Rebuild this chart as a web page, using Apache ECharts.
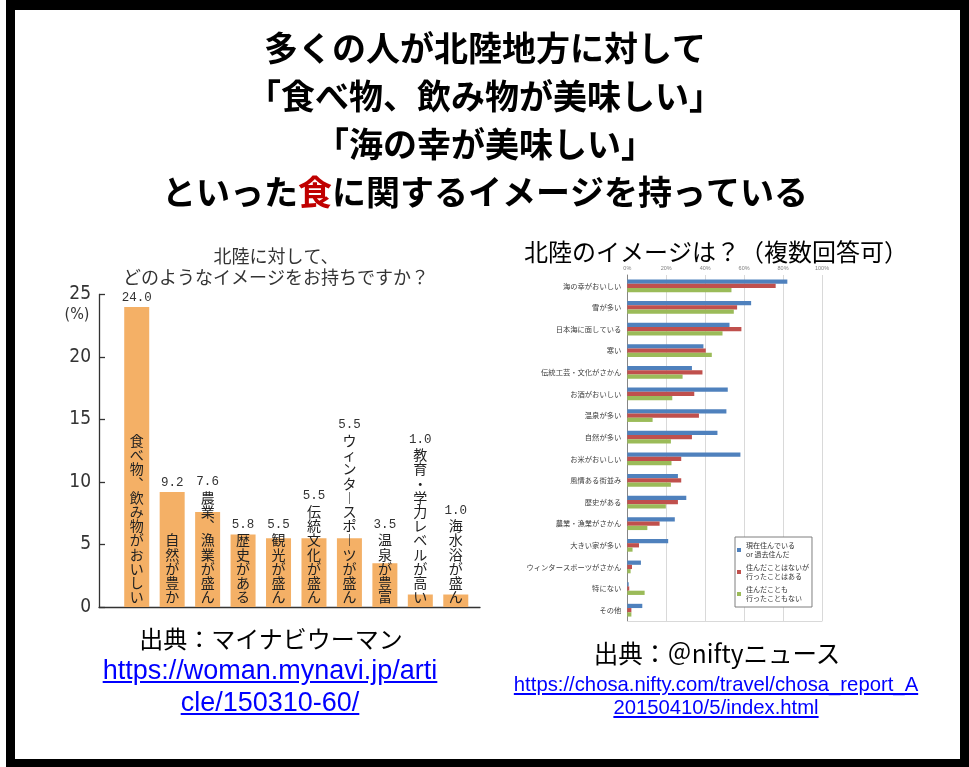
<!DOCTYPE html>
<html>
<head>
<meta charset="utf-8">
<script src="https://cdn.jsdelivr.net/npm/echarts/dist/echarts.min.js"></script>
<style>
  html, body { margin:0; padding:0; background:#fff; width:969px; height:767px; overflow:hidden; }
  #frame { position:absolute; left:6px; top:0; width:963px; height:767px; box-sizing:border-box;
           border-style:solid; border-color:#000; border-width:10px 9px 8px 9px; }
  #chart { position:absolute; left:0; top:0; width:969px; height:767px; }
  .src { position:absolute; transform:translateX(-50%); white-space:nowrap; text-align:center;
         font-family:"Noto Sans CJK JP", sans-serif; color:#000; }
  .lnk { position:absolute; transform:translateX(-50%); white-space:nowrap; text-align:center;
         font-family:"Liberation Sans", Arial, sans-serif; color:#0000FF; text-decoration:underline; }
</style>
</head>
<body>
<div id="frame"></div>
<div id="chart"></div>
<div class="src" style="left:271px;top:623px;font-size:24px;line-height:30px;">出典：マイナビウーマン</div>
<div class="lnk" style="left:270px;top:654px;font-size:27px;line-height:32px;">https://woman.mynavi.jp/arti<br>cle/150310-60/</div>
<div class="src" style="left:717px;top:638px;font-size:24.5px;line-height:30px;">出典：＠niftyニュース</div>
<div class="lnk" style="left:716px;top:673px;font-size:20.3px;line-height:23px;">https://chosa.nifty.com/travel/chosa_report_A<br>20150410/5/index.html</div>
<script>
// ---------- data ----------
const leftCategories = ['食べ物、飲み物がおいしい','自然が豊か','農業、漁業が盛ん','歴史がある','観光が盛ん','伝統文化が盛ん','ウィンタースポーツが盛ん','温泉が豊富','教育・学力レベルが高い','海水浴が盛ん'];
const leftValues = [24.0, 9.2, 7.6, 5.8, 5.5, 5.5, 5.5, 3.5, 1.0, 1.0];
const leftTicks = [0, 5, 10, 15, 20, 25];

const rightCategories = ['海の幸がおいしい','雪が多い','日本海に面している','寒い','伝統工芸・文化がさかん','お酒がおいしい','温泉が多い','自然が多い','お米がおいしい','風情ある街並み','歴史がある','農業・漁業がさかん','大きい家が多い','ウィンタースポーツがさかん','特にない','その他'];
const seriesNames = ['現在住んでいる\nor 過去住んだ','住んだことはないが\n行ったことはある','住んだことも\n行ったこともない'];
const residentValues = [82.2, 63.6, 52.5, 39.1, 33.2, 51.6, 50.9, 46.3, 58.1, 26.0, 30.3, 24.4, 21.0, 7.0, 0.7, 7.7];
const visitorValues  = [76.2, 56.4, 58.6, 40.3, 38.6, 34.4, 36.8, 33.2, 27.7, 27.7, 26.0, 16.6, 6.0, 2.4, 1.0, 2.1];
const neverValues    = [53.5, 54.7, 48.9, 43.4, 28.4, 23.1, 13.0, 22.4, 22.7, 22.4, 19.8, 10.3, 2.7, 1.7, 8.9, 2.1];
const rightTicks = [0, 20, 40, 60, 80, 100];

// ---------- helpers ----------
const CJK = '"Noto Sans CJK JP", sans-serif';
const NARROW = '"Liberation Sans Narrow", "DejaVu Sans Condensed", sans-serif';
const MONO = '"Liberation Mono", "DejaVu Sans Mono", monospace';
const VMAP = { 'ー': '︱', '、': '︑' };
const CHAR_H = 14.2;
const LEFT_TOP = 294.5, LEFT_BOTTOM = 607;
const PX_PER_UNIT = (LEFT_BOTTOM - LEFT_TOP) / leftTicks[leftTicks.length - 1];
function vert(s) { return Array.from(s).map(ch => '{c|' + (VMAP[ch] || ch) + '}').join('\n'); }
function textTaller(i) { return Array.from(leftCategories[i]).length * CHAR_H + 3 > leftValues[i] * PX_PER_UNIT; }

const chart = echarts.init(document.getElementById('chart'), null, { renderer: 'canvas' });

const option = {
  backgroundColor: 'transparent',
  animation: false,
  graphic: [
    { type: 'text', z: 10, style: {
        x: 485, y: 24, align: 'center', verticalAlign: 'top',
        text: '多くの人が北陸地方に対して\n「食べ物、飲み物が美味しい」\n「海の幸が美味しい」\nといった{r|食}に関するイメージを持っている',
        fontSize: 34, fontWeight: 'bold', fontFamily: CJK, lineHeight: 48, fill: '#000',
        rich: { r: { fill: '#C00000', fontSize: 34, fontWeight: 'bold', fontFamily: CJK, lineHeight: 48 } }
    }},
    { type: 'text', style: {
        x: 276, y: 246, align: 'center', verticalAlign: 'top',
        text: '北陸に対して、\nどのようなイメージをお持ちですか？',
        fontSize: 18, fontFamily: CJK, lineHeight: 20.5, fill: '#333'
    }},
    { type: 'text', style: {
        x: 77, y: 315, align: 'center', verticalAlign: 'middle',
        text: '(%)', fontSize: 16, fontFamily: NARROW, fill: '#333'
    }},
    { type: 'text', z: 5, style: {
        x: 716, y: 252, align: 'center', verticalAlign: 'middle',
        text: '北陸のイメージは？（複数回答可）', fontSize: 24, fontFamily: CJK, fill: '#000'
    }}
  ],
  grid: [
    { left: 119, right: 969 - 473.5, top: LEFT_TOP, bottom: 767 - LEFT_BOTTOM },
    { left: 627.3, right: 969 - 822, top: 275, bottom: 767 - 621 },
    { left: 99, right: 969 - 480, top: LEFT_TOP, bottom: 767 - LEFT_BOTTOM }
  ],
  xAxis: [
    { type: 'category', gridIndex: 0, data: leftCategories,
      axisLine: { show: false }, axisTick: { show: false }, axisLabel: { show: false } },
    { type: 'value', gridIndex: 1, position: 'top', min: rightTicks[0], max: rightTicks[rightTicks.length - 1], interval: 20,
      axisLine: { show: false }, axisTick: { show: false },
      axisLabel: { fontSize: 5.5, color: '#7f7f7f', margin: 4, formatter: '{value}%', fontFamily: 'Liberation Sans' },
      splitLine: { show: true, lineStyle: { color: '#d9d9d9', width: 1 } } },
    { type: 'value', gridIndex: 1, position: 'bottom', min: 0, max: 100,
      axisLine: { show: true, lineStyle: { color: '#d9d9d9', width: 1 } },
      axisTick: { show: false }, axisLabel: { show: false }, splitLine: { show: false } },
    { type: 'value', gridIndex: 2, min: 0, max: 1,
      axisLine: { show: true, lineStyle: { color: '#333', width: 1.3 } },
      axisTick: { show: false }, axisLabel: { show: false }, splitLine: { show: false } }
  ],
  yAxis: [
    { type: 'value', gridIndex: 0, min: leftTicks[0], max: leftTicks[leftTicks.length - 1], interval: 5, offset: 20,
      axisLine: { show: true, lineStyle: { color: '#333', width: 1.3 } },
      axisTick: { show: true, inside: true, length: 6, lineStyle: { color: '#333', width: 1.3 } },
      axisLabel: { fontSize: 19, color: '#333', margin: 8, fontFamily: NARROW },
      splitLine: { show: false } },
    { type: 'category', gridIndex: 1, inverse: true, data: rightCategories,
      axisLine: { show: true, lineStyle: { color: '#868686', width: 1 } },
      axisTick: { show: false },
      axisLabel: { fontSize: 7.3, color: '#404040', margin: 6, fontFamily: CJK, interval: 0 } },
    { type: 'value', gridIndex: 2, show: false, min: 0, max: 1 }
  ],
  legend: {
    show: true, orient: 'vertical', left: 735, top: 537,
    data: seriesNames, icon: 'rect', itemWidth: 4, itemHeight: 4, itemGap: 4,
    padding: [4, 3, 4, 2], borderColor: '#7f7f7f', borderWidth: 1, backgroundColor: '#fff',
    selectedMode: false,
    textStyle: { fontSize: 7, color: '#333', lineHeight: 9, fontFamily: CJK }
  },
  series: [
    { type: 'bar', name: 'left', xAxisIndex: 0, yAxisIndex: 0, data: leftValues, barWidth: 25,
      itemStyle: { color: '#F4B066' },
      label: { show: true, position: 'insideBottom', distance: 3,
        formatter: p => (textTaller(p.dataIndex) ? '{v|' + p.value.toFixed(1) + '}\n' : '') + vert(leftCategories[p.dataIndex]),
        rich: {
          v: { fontFamily: MONO, fontSize: 12.5, lineHeight: 17, color: '#333' },
          c: { fontFamily: CJK, fontSize: 14, lineHeight: CHAR_H, color: '#222' }
        } } },
    { type: 'bar', name: 'leftValue', xAxisIndex: 0, yAxisIndex: 0, data: leftValues, barWidth: 25, barGap: '-100%',
      silent: true, itemStyle: { color: 'rgba(0,0,0,0)' },
      label: { show: true, position: 'top', distance: 3, fontFamily: MONO, fontSize: 12.5, color: '#333',
        formatter: p => textTaller(p.dataIndex) ? '' : p.value.toFixed(1) } },
    { type: 'bar', name: seriesNames[0], xAxisIndex: 1, yAxisIndex: 1, data: residentValues,
      barGap: '0%', barCategoryGap: '41%', itemStyle: { color: '#4F81BD' } },
    { type: 'bar', name: seriesNames[1], xAxisIndex: 1, yAxisIndex: 1, data: visitorValues,
      barGap: '0%', barCategoryGap: '41%', itemStyle: { color: '#C0504D' } },
    { type: 'bar', name: seriesNames[2], xAxisIndex: 1, yAxisIndex: 1, data: neverValues,
      barGap: '0%', barCategoryGap: '41%', itemStyle: { color: '#9BBB59' } }
  ]
};
chart.setOption(option);
</script>
</body>
</html>
